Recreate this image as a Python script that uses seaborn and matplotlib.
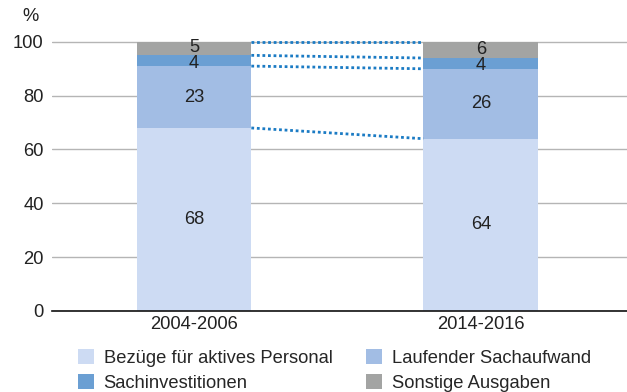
import matplotlib
matplotlib.use("Agg")
import matplotlib.pyplot as plt
import matplotlib.patches as mpatches
import numpy as np
import pandas as pd
import seaborn as sns

# Spending shares per period (percent)
periods = ["2004-2006", "2014-2016"]
personal = [68, 64]
sachaufwand = [23, 26]
investitionen = [4, 4]
sonstige = [5, 6]

series_names = ["Bezüge für aktives Personal", "Laufender Sachaufwand",
                "Sachinvestitionen", "Sonstige Ausgaben"]
series_values = [personal, sachaufwand, investitionen, sonstige]
colors = ["#cddbf3", "#a2bde4", "#6b9fd3", "#a3a4a3"]

sns.set_theme(style="white")
plt.rcParams["font.family"] = ["Liberation Sans", "DejaVu Sans"]
FS = 13.2

fig = plt.figure(figsize=(6.27, 3.92), dpi=100)
ax = fig.add_axes([0.083, 0.207, 0.917, 0.693])

# cumulative tops of each stacked segment
vals = np.array(series_values, dtype=float)
tops = np.cumsum(vals, axis=0)
bottoms = tops - vals

# draw from the tallest cumulative layer down so each segment shows its own colour
for i in range(len(series_names) - 1, -1, -1):
    df = pd.DataFrame({"period": periods, "value": tops[i]})
    sns.barplot(data=df, x="period", y="value", color=colors[i], width=0.4,
                saturation=1, linewidth=0, edgecolor="none", ax=ax, zorder=2)

# segment value labels; the thin investment segment's label sits a touch lower
label_nudge = [0, 0, -0.9, 0.3]
for i in range(len(series_names)):
    for j in range(len(periods)):
        ax.text(j, bottoms[i, j] + vals[i, j] / 2 + label_nudge[i],
                f"{vals[i, j]:.0f}", ha="center", va="center", fontsize=FS,
                color="#222222", zorder=4)

# dotted connectors between the segment boundaries of the two bars
for i in range(len(series_names)):
    ax.plot([0.2, 0.8], [tops[i, 0], tops[i, 1]], linestyle=(0, (1, 1)),
            color="#1b7bc4", linewidth=2, zorder=3)

ax.set_xlim(-0.495, 1.51)
ax.set_ylim(0, 101)
ax.set_yticks([0, 20, 40, 60, 80, 100])
ax.yaxis.grid(True, color="#b5b5b5", linewidth=1)
ax.set_axisbelow(True)
for s in ["top", "right", "left"]:
    ax.spines[s].set_visible(False)
ax.spines["bottom"].set_color("#111111")
ax.spines["bottom"].set_linewidth(1.2)
ax.tick_params(axis="both", length=0, labelsize=FS, colors="#222222")
ax.tick_params(axis="y", pad=6)
ax.tick_params(axis="x", pad=4)
ax.set_xlabel("")
ax.set_ylabel("")
fig.text(0.048, 0.958, "%", fontsize=FS, color="#222222", ha="center", va="center")

# legend filled row by row: matplotlib fills columns first, so interleave
order = [0, 2, 1, 3]
handles = [mpatches.Patch(facecolor=colors[k], edgecolor="none") for k in order]
labels = [series_names[k] for k in order]
fig.legend(handles, labels, ncol=2, loc="lower left",
           bbox_to_anchor=(0.112, -0.018), frameon=False, fontsize=FS,
           handlelength=0.87, handleheight=0.87, handletextpad=0.55,
           columnspacing=1.85, labelspacing=0.40, borderaxespad=0)

fig.savefig("out.png", dpi=100)
